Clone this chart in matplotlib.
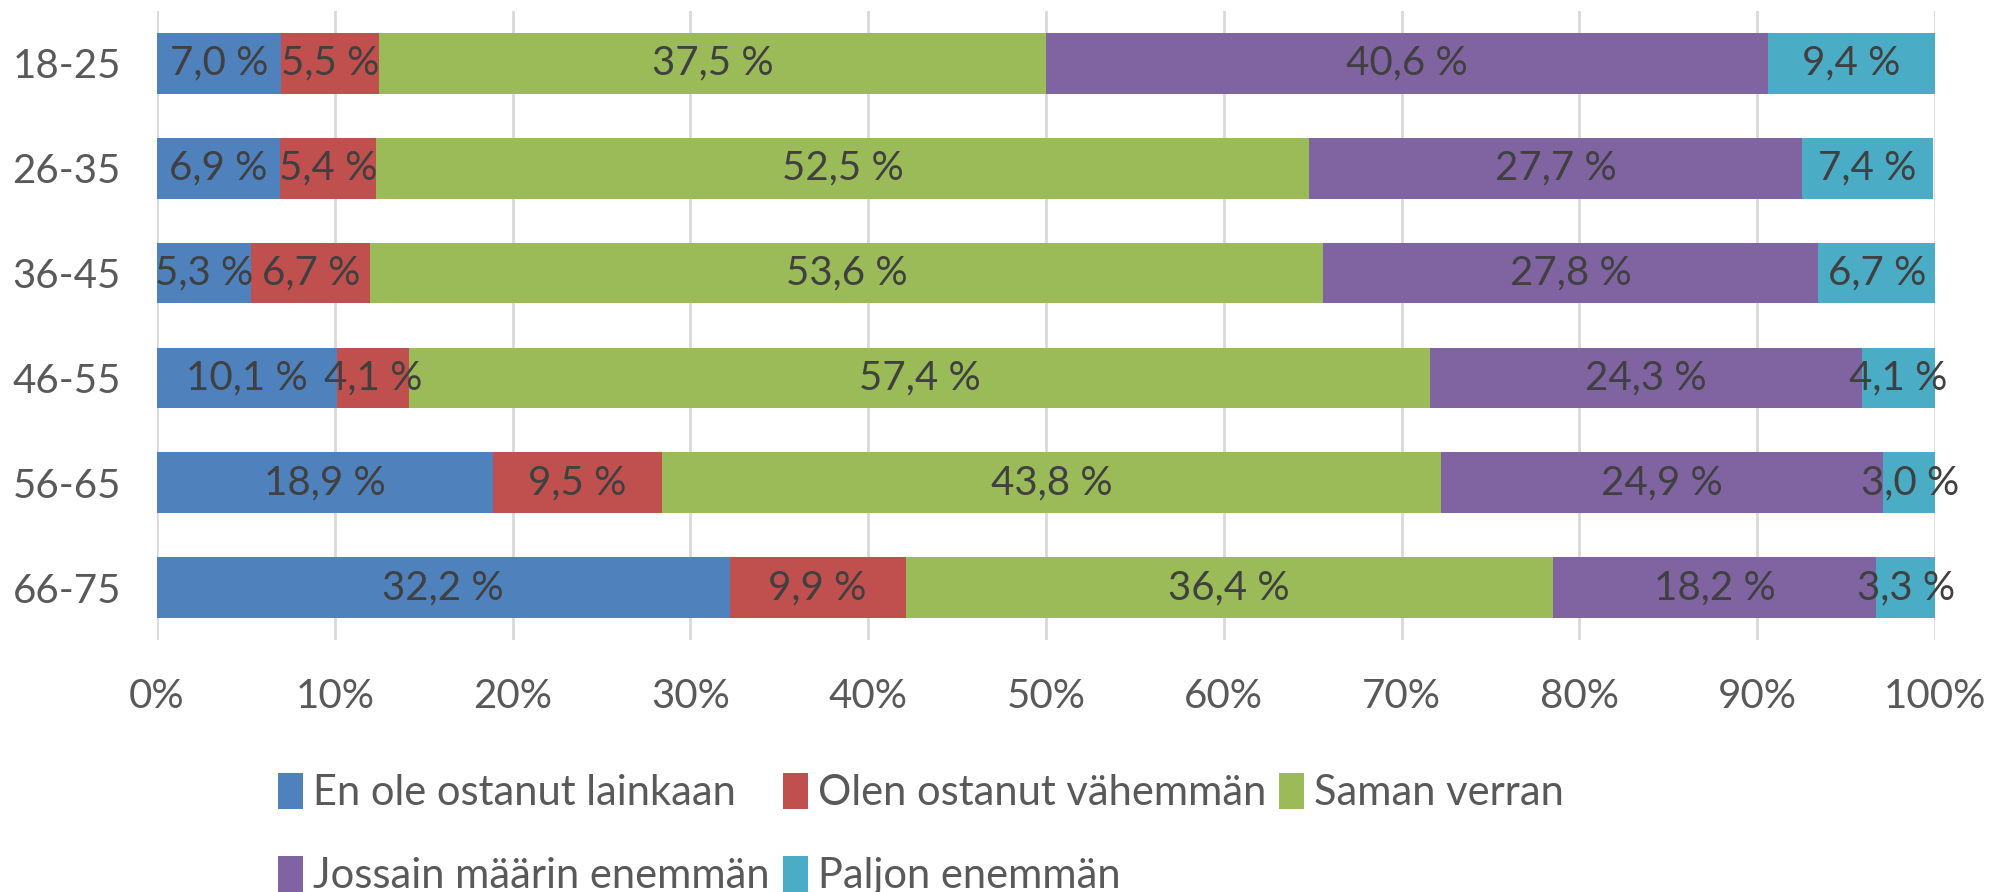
import matplotlib
matplotlib.use("Agg")
import matplotlib.pyplot as plt
import numpy as np

plt.rcParams['font.family'] = ['Lato', 'DejaVu Sans']

categories = ["18-25", "26-35", "36-45", "46-55", "56-65", "66-75"]
series_names = ["En ole ostanut lainkaan", "Olen ostanut vähemmän", "Saman verran",
                "Jossain määrin enemmän", "Paljon enemmän"]
en_ole = [7.0, 6.9, 5.3, 10.1, 18.9, 32.2]
vahemman = [5.5, 5.4, 6.7, 4.1, 9.5, 9.9]
saman = [37.5, 52.5, 53.6, 57.4, 43.8, 36.4]
jossain = [40.6, 27.7, 27.8, 24.3, 24.9, 18.2]
paljon = [9.4, 7.4, 6.7, 4.1, 3.0, 3.3]
colors = ["#4F81BD", "#C0504D", "#9BBB59", "#8064A2", "#4BACC6"]
x_ticks = [0, 10, 20, 30, 40, 50, 60, 70, 80, 90, 100]

series = [en_ole, vahemman, saman, jossain, paljon]

FS = 29

fig = plt.figure(figsize=(19.92, 8.92), dpi=100)
ax = fig.add_axes([157/1992, 1 - 640/892, (1935 - 157)/1992, (640 - 11)/892])

y = np.arange(len(categories))
left = np.zeros(len(categories))
handles = []
for name, vals, col in zip(series_names, series, colors):
    vals = np.array(vals)
    bars = ax.barh(y, vals, left=left, height=0.58, color=col, label=name, zorder=3)
    handles.append(bars)
    for yi, l, v in zip(y, left, vals):
        ax.text(l + v / 2, yi, f"{v:.1f} %".replace(".", ","), ha="center", va="center",
                fontsize=FS, color="#404040", zorder=4)
    left = left + vals

ax.set_xlim(0, 100)
ax.set_ylim(len(categories) - 0.5, -0.5)
ax.set_yticks(y)
ax.set_yticklabels(categories)
ax.set_xticks(x_ticks)
ax.set_xticklabels([f"{t}%" for t in x_ticks])
ax.tick_params(axis="y", length=0, pad=26, labelsize=FS, labelcolor="#595959")
ax.tick_params(axis="x", length=0, pad=27, labelsize=FS, labelcolor="#595959")
ax.grid(axis="x", color="#D9D9D9", linewidth=2, zorder=0)
for s in ax.spines.values():
    s.set_visible(False)

order = [0, 3, 1, 4, 2]
leg = fig.legend([handles[i] for i in order], [series_names[i] for i in order],
                 ncol=3, loc="upper left", bbox_to_anchor=(278/1992, 1 - 773/892),
                 frameon=False, fontsize=30, handlelength=0.6, handleheight=0.95,
                 handletextpad=0.25, columnspacing=0.3, labelspacing=1.05,
                 borderpad=0, borderaxespad=0)
for t in leg.get_texts():
    t.set_color("#595959")

fig.savefig("out.png", dpi=100)
